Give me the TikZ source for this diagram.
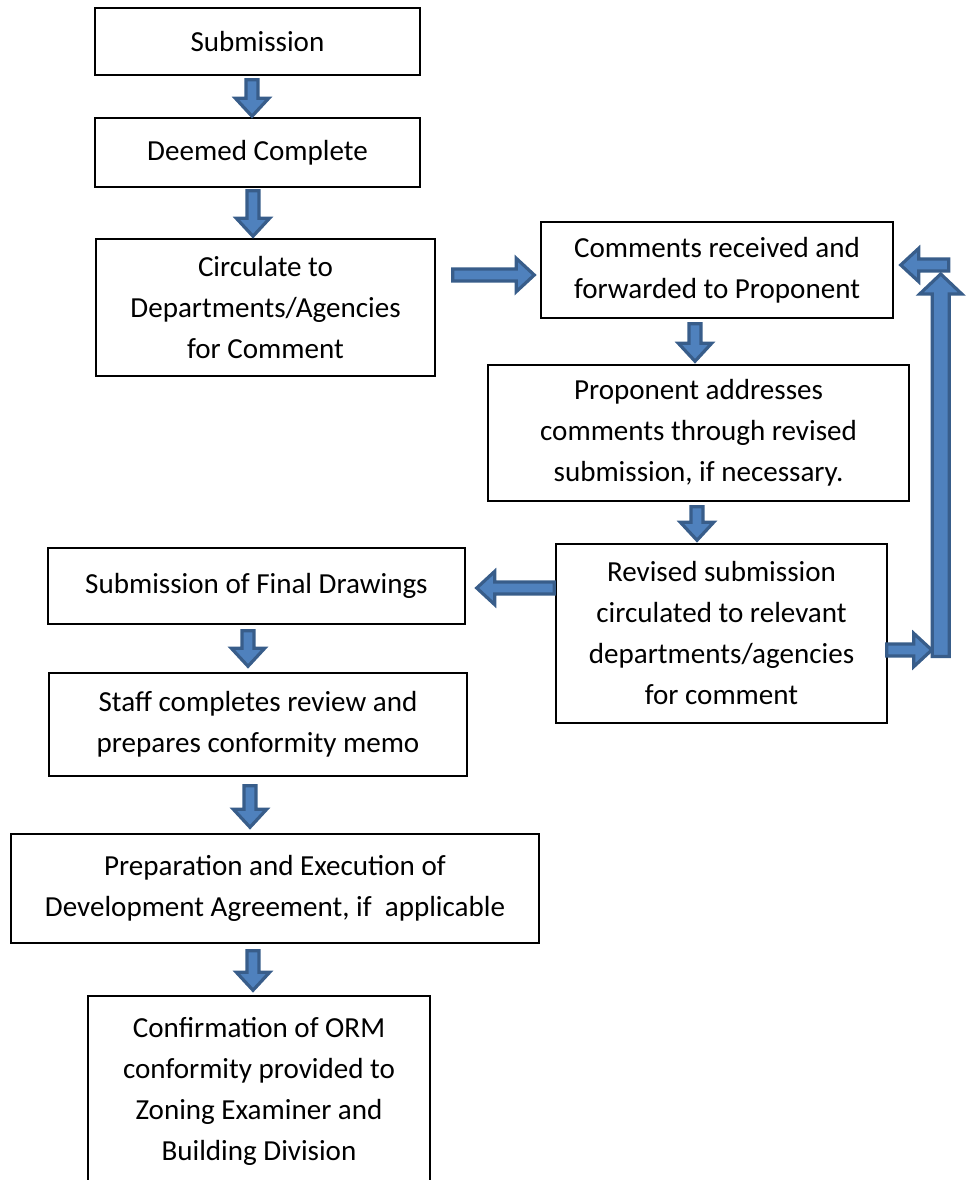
\documentclass[tikz,border=0pt]{standalone}
\usepackage{fontspec}
\setmainfont{Carlito}
\usepackage{xcolor}
\usetikzlibrary{positioning, calc}
\definecolor{arrowfill}{HTML}{4F81BD}
\definecolor{arrowedge}{HTML}{385D8A}

% block arrow from #1 (tail) to #2 (tip)
\def\shaftw{4.5pt}
\def\headw{12.5pt}
\def\headlen{13.5pt}
\newcommand{\blockarrow}[2]{%
    \path ($(#2)!\headlen!(#1)$) coordinate (hb);
    \filldraw[barrow]
        ($(#1)!\shaftw!90:(#2)$) -- ($(hb)!\shaftw!90:(#2)$) --
        ($(hb)!\headw!90:(#2)$) -- (#2) --
        ($(hb)!\headw!-90:(#2)$) -- ($(hb)!\shaftw!-90:(#2)$) --
        ($(#1)!\shaftw!-90:(#2)$) -- cycle;
}

\begin{document}
\begin{tikzpicture}[x=0.75pt, y=-0.75pt,
    box/.style={draw, line width=1.1pt, align=center, inner sep=0pt,
        font=\fontsize{21.8}{30.75}\selectfont},
    barrow/.style={fill=arrowfill, draw=arrowedge, line width=2.4pt}]
\clip (0,0) rectangle (969,1180);
% Boxes
\node[box, minimum width=243.75pt, minimum height=50.25pt] (sub) at (257.5,41.5) {Submission};
\node[box, minimum width=243.75pt, minimum height=51.75pt] (dc) at (257.5,152.5) {Deemed Complete};
\node[box, minimum width=254.25pt, minimum height=102.75pt] (circ) at (265.5,307.5)
    {Circulate to\\Departments/Agencies\\for Comment};
\node[box, minimum width=264pt, minimum height=72pt] (comm) at (717,270)
    {Comments received and\\forwarded to Proponent};
\node[box, minimum width=315.75pt, minimum height=102pt] (prop) at (698.5,433)
    {Proponent addresses\\comments through revised\\submission, if necessary.};
\node[box, minimum width=248.25pt, minimum height=134.25pt] (rev) at (721.5,633.5)
    {Revised submission\\circulated to relevant\\departments/agencies\\for comment};
\node[box, minimum width=312.75pt, minimum height=57pt] (fin) at (256.5,586)
    {Submission of Final Drawings};
\node[box, minimum width=313.5pt, minimum height=77.25pt] (staff) at (258,724.5)
    {Staff completes review and\\prepares conformity memo};
\node[box, minimum width=396pt, minimum height=81.75pt] (prep) at (275,888.5)
    {Preparation and Execution of\\Development Agreement, if\ \ applicable};
\node[box, minimum width=256.5pt, minimum height=142.5pt] (conf) at (259,1091)
    {Confirmation of ORM\\conformity provided to\\Zoning Examiner and\\Building Division};
% Arrow ends
\coordinate (a1) at ($(sub.south)+(-5.5,4)$);
\coordinate (b1) at ($(dc.north)+(-5.5,-1)$);
\coordinate (a2) at ($(dc.south)+(-4.5,3)$);
\coordinate (b2) at ($(circ.north)+(-12.5,-2)$);
\coordinate (a3) at ($(circ.east)+(17,-32.5)$);
\coordinate (b3) at ($(comm.west)+(-6,5)$);
\coordinate (a4) at ($(comm.south)+(-22,5)$);
\coordinate (b4) at ($(prop.north)+(-3.5,-3)$);
\coordinate (a5) at ($(prop.south)+(-1.5,5)$);
\coordinate (b5) at ($(rev.north)+(-24.5,-3)$);
\coordinate (a6) at ($(rev.west)+(-1,-45.5)$);
\coordinate (b6) at ($(fin.east)+(11,2)$);
\coordinate (a7) at ($(fin.south)+(-8.5,6)$);
\coordinate (b7) at ($(staff.north)+(-10,-6)$);
\coordinate (a8) at ($(staff.south)+(-8,9)$);
\coordinate (b8) at ($(prep.north)+(-25,-6)$);
\coordinate (a9) at ($(prep.south)+(-22,7)$);
\coordinate (b9) at ($(conf.north)+(-6,-5)$);
\coordinate (a10) at ($(rev.east)+(-1,16.5)$);
\coordinate (b10) at ($(rev.east)+(44,16.5)$);
\coordinate (barlow) at ($(rev.east)+(53,23)$);
\coordinate (bartop) at ($(comm.east)+(47,4)$);
\coordinate (a12) at ($(comm.east)+(55,-5)$);
\coordinate (b12) at ($(comm.east)+(7,-5)$);
% Block arrows
\foreach \from/\to in {a1/b1, a2/b2, a3/b3, a4/b4, a5/b5, a6/b6, a7/b7, a8/b8, a9/b9, a10/b10}{
    \blockarrow{\from}{\to}
}
% Return bar
{\def\shaftw{6.4pt}\def\headw{15.8pt}\def\headlen{15pt}
\blockarrow{barlow}{bartop}}
\blockarrow{a12}{b12}
\end{tikzpicture}
\end{document}
